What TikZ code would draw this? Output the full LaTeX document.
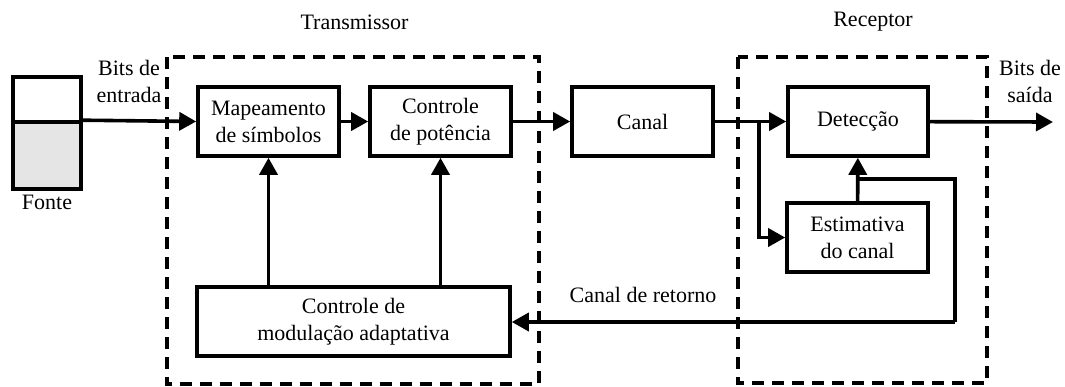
\documentclass[tikz,border=0pt]{standalone}
\usepackage{fontspec}
\setmainfont{Liberation Serif}
\usetikzlibrary{arrows.meta}
\begin{document}
\begin{tikzpicture}[x=1pt,y=-1pt,
  every node/.style={font=\fontsize{22}{27}\selectfont, inner sep=0pt},
  blk/.style={draw, line width=3.6pt, minimum width=141pt, minimum height=69pt, align=center},
  conn/.style={line width=3.6pt, -{Triangle[length=17pt,width=18pt]}},
  wire/.style={line width=3.6pt},
  dbox/.style={draw, line width=3.6pt, dash pattern=on 12pt off 8pt},
  lbl/.style={align=center}]
\useasboundingbox (0,0) rectangle (1065,386);
% dashed regions
\draw[dbox] (167,57) rectangle (539,384);
\draw[dbox] (738,57) rectangle (987,383);
% source
\node[draw, line width=3.6pt, minimum width=68pt, minimum height=45pt] (fa) at (47,99.5) {};
\node[draw, line width=3.6pt, fill=black!10, minimum width=68pt, minimum height=67pt] (fb) at (47,155.5) {};
\node (fonte) at (47,202) {Fonte};
% blocks
\node[blk] (map) at (268.5,121.5) {Mapeamento\\de símbolos};
\node[blk] (pot) at (440.5,121.5) {Controle\\de potência};
\node[blk] (can) at (642.5,121.5) {Canal};
\node[blk, minimum width=140pt] (det) at (858,121.5) {Detecção};
\node[blk] (est) at (857.5,237.5) {Estimativa\\do canal};
\node[blk, minimum width=313pt] (mod) at (353.5,321.5) {Controle de\\modulação adaptativa};
% labels
\node (tx) at (354.5,22) {Transmissor};
\node (rx) at (873,22) {Receptor};
\node[lbl] (bin) at (129,81) {Bits de\\entrada};
\node[lbl] (bout) at (1030,81) {Bits de\\saída};
\node (ret) at (643,295) {Canal de retorno};
\coordinate (out) at (1053,122);
\coordinate (split) at (759,122);
\coordinate (fb1) at (858,179);
\coordinate (fb2) at (955,179);
\coordinate (fb3) at (955,322);
% connectors
\draw[conn] (fb.north east) -- (map.west);
\draw[conn] (map) -- (pot);
\draw[conn] (pot) -- (can);
\draw[conn] (can) -- (det);
\draw[conn] (det) -- (out);
\draw[conn] (split) |- (est.west);
\draw[conn] (est) -- (det);
\draw[conn] (mod.north -| map.south) -- (map.south);
\draw[conn] (mod.north -| pot.south) -- (pot.south);
\draw[wire] (fb1) -- (fb2) -- (fb3);
\draw[conn] (fb3) -- (mod.east |- fb3);
\end{tikzpicture}
\end{document}
